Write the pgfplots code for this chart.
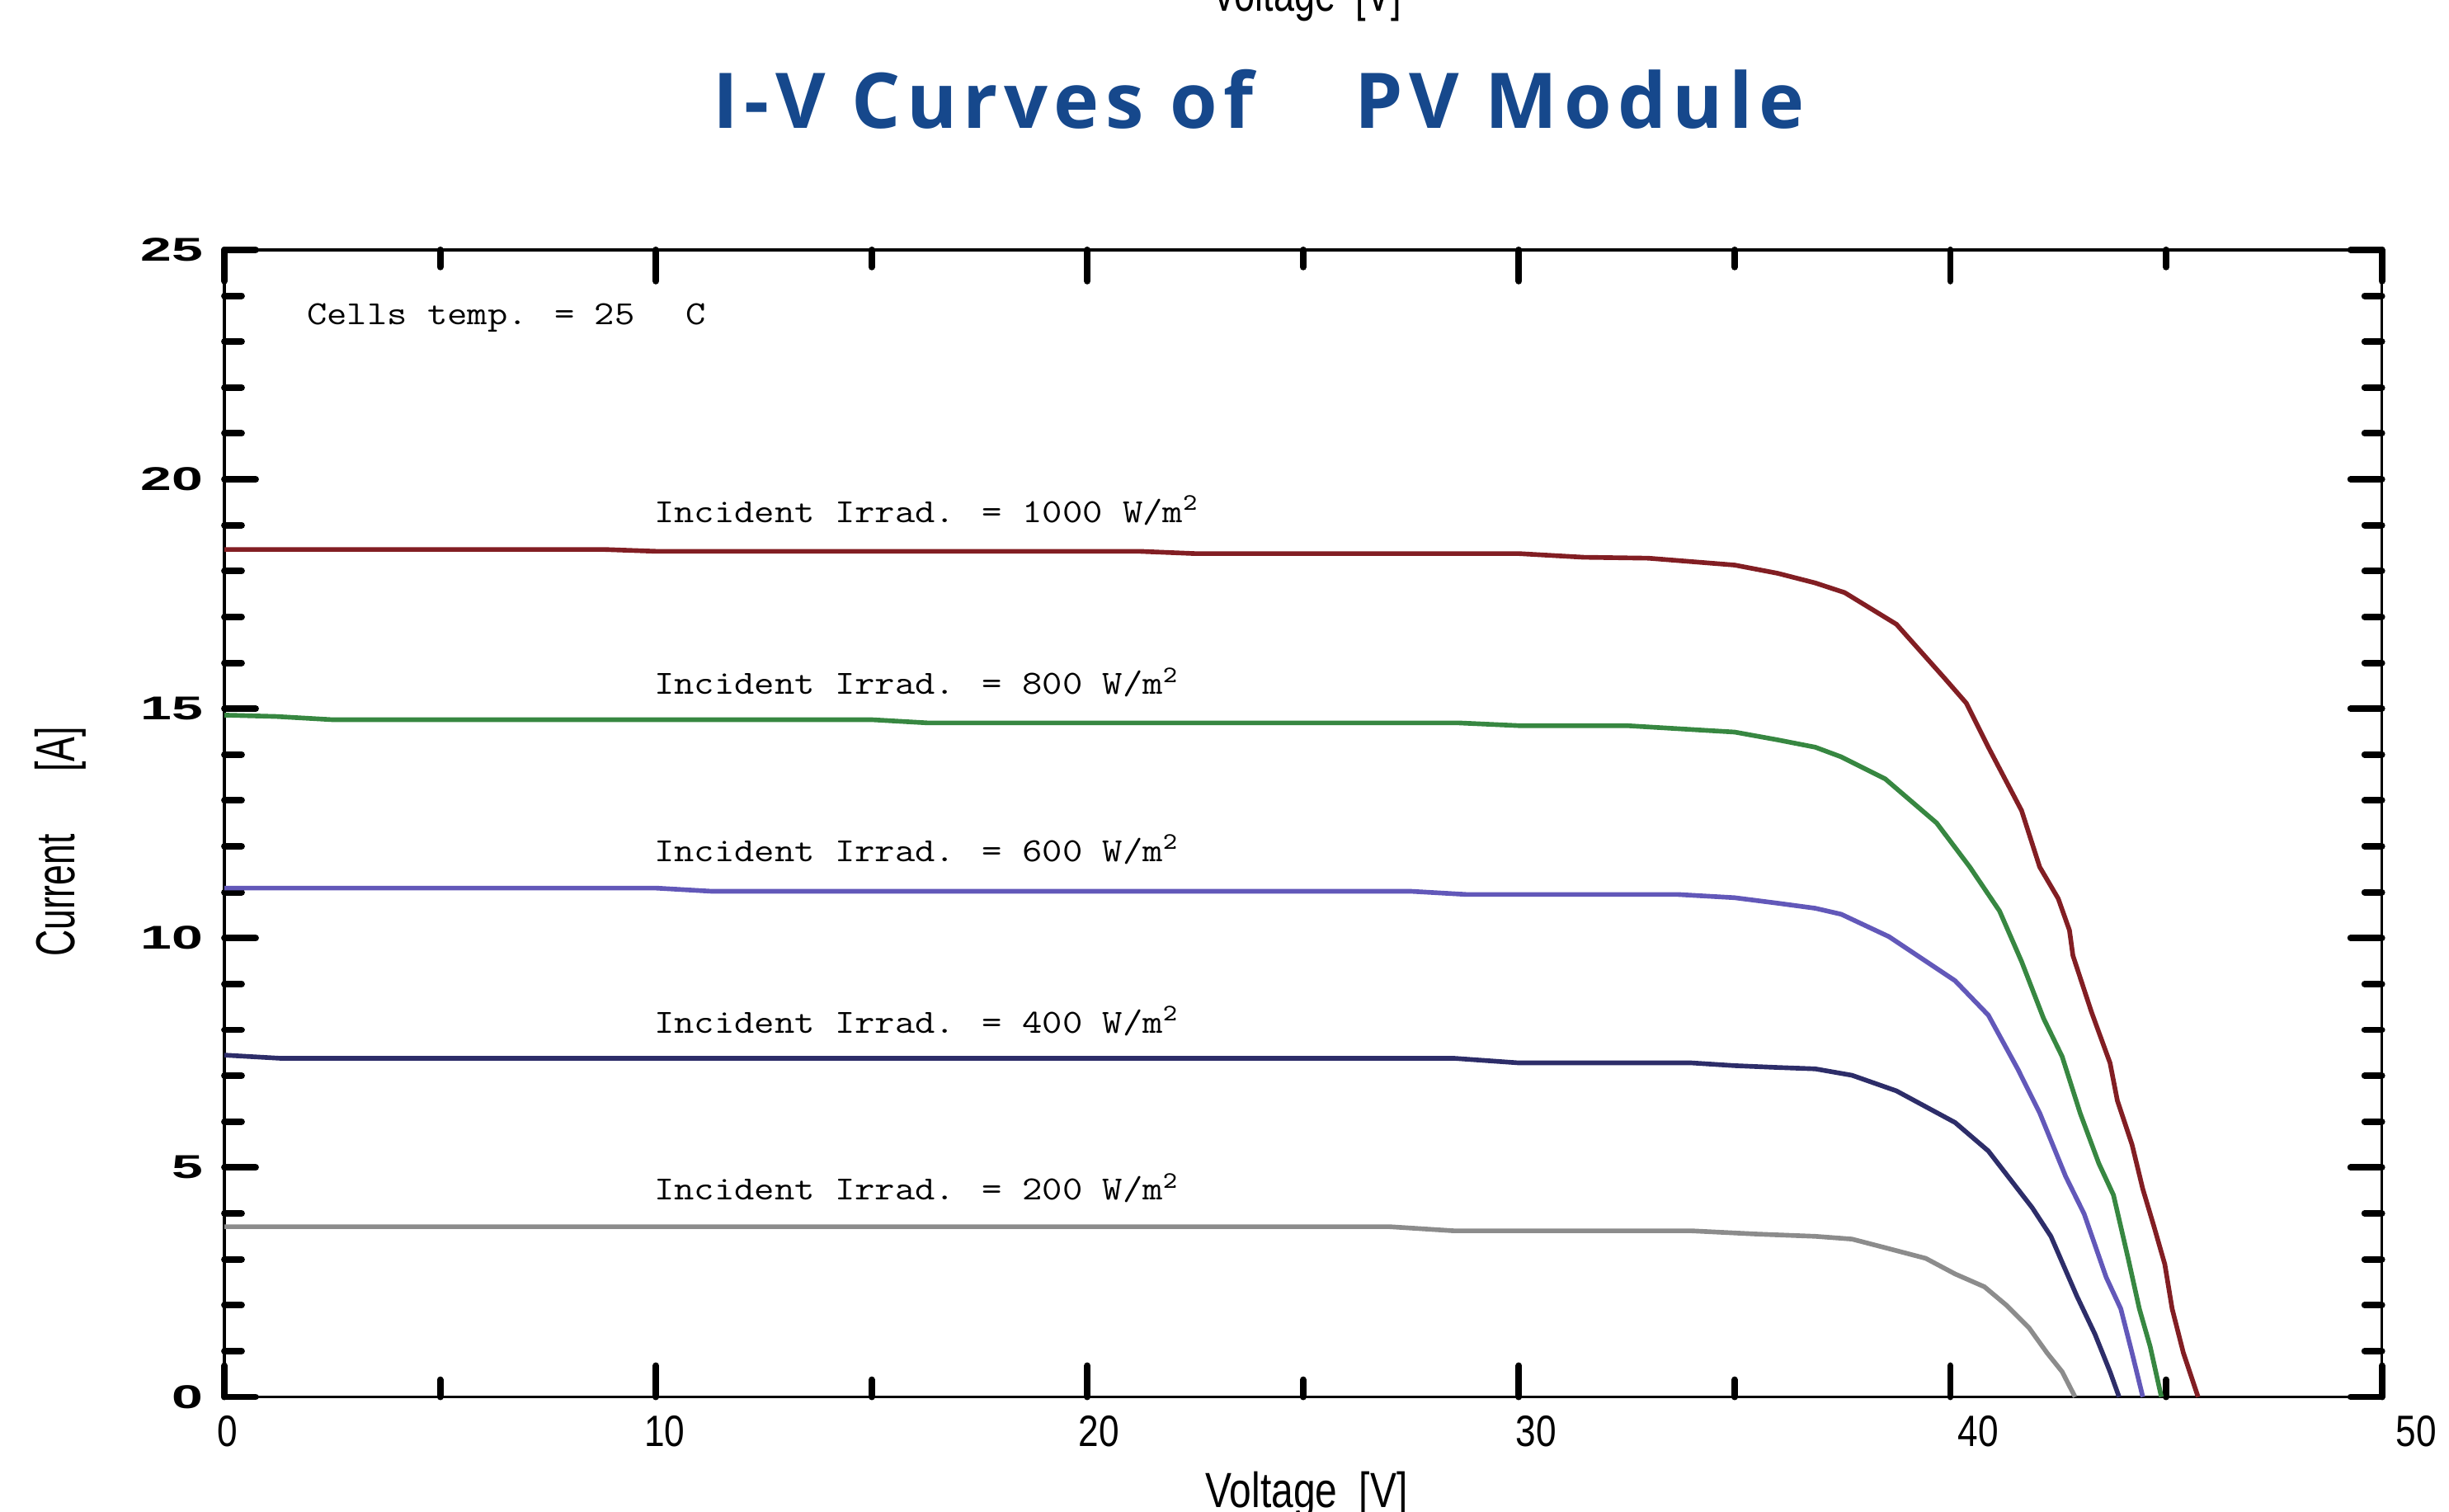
\documentclass[border=0pt]{standalone}
\usepackage{pgfplots}
\pgfplotsset{compat=1.18}
\usepackage{fontspec}
\usepackage{graphicx}
\setmainfont{Liberation Sans}
\newfontfamily\titlefont[LetterSpace=8]{Open Sans}

\definecolor{titleblue}{RGB}{22,72,140}
\definecolor{c1000}{RGB}{130,30,35}
\definecolor{c800}{RGB}{55,135,65}
\definecolor{c600}{RGB}{98,88,185}
\definecolor{c400}{RGB}{45,45,105}
\definecolor{c200}{RGB}{140,140,140}

% annotation text (typewriter, slightly widened)
\newcommand\ann[1]{\scalebox{1.155}[1]{\ttfamily\fontsize{12.3}{14}\selectfont #1}}
% y tick labels: wide bold
\newcommand\yl[1]{\scalebox{1.7}[1]{\fontsize{12}{14}\selectfont\bfseries #1}}
% x tick labels: narrow
\newcommand\xl[1]{\scalebox{0.83}[1]{\fontsize{16}{19}\selectfont #1}}

\pgfplotstableread{
V I
0 18.47
8.8 18.47
10 18.43
21.2 18.43
22.5 18.38
30 18.38
31.5 18.30
33 18.28
35 18.13
36 17.95
36.87 17.74
37.55 17.53
38.75 16.84
39.86 15.67
40.37 15.12
40.88 14.16
41.65 12.78
42.07 11.55
42.5 10.86
42.76 10.17
42.84 9.62
43.27 8.39
43.7 7.28
43.87 6.46
44.21 5.50
44.46 4.53
44.72 3.71
44.97 2.89
45.14 1.92
45.4 0.96
45.74 0
}\irrA

\pgfplotstableread{
V I
0 14.86
1.2 14.83
2.5 14.76
15 14.76
16.3 14.69
28.6 14.69
30 14.63
32.5 14.63
35 14.49
36 14.32
36.87 14.16
37.47 13.95
38.49 13.47
39.68 12.51
40.45 11.55
41.14 10.59
41.65 9.49
42.16 8.25
42.59 7.42
43.01 6.18
43.44 5.09
43.78 4.40
44.12 3.02
44.38 1.92
44.63 1.10
44.89 0
}\irrB

\pgfplotstableread{
V I
0 11.09
10 11.09
11.3 11.02
27.5 11.02
28.8 10.95
33.7 10.95
35 10.88
36 10.76
36.87 10.65
37.47 10.52
38.58 10.03
40.11 9.07
40.88 8.32
41.56 7.15
42.07 6.19
42.67 4.81
43.1 3.99
43.61 2.61
43.95 1.92
44.21 0.96
44.46 0
}\irrC

\pgfplotstableread{
V I
0 7.45
1.3 7.38
28.5 7.38
30 7.28
34 7.28
35 7.22
36 7.18
36.87 7.15
37.72 7.01
38.75 6.67
40.11 5.98
40.88 5.36
41.9 4.12
42.33 3.50
42.93 2.20
43.35 1.37
43.7 0.55
43.91 0
}\irrD

\pgfplotstableread{
V I
0 3.71
27 3.71
28.5 3.62
34 3.62
35.5 3.55
36.87 3.50
37.72 3.44
38.58 3.23
39.43 3.02
40.11 2.68
40.79 2.40
41.31 1.99
41.82 1.51
42.24 0.96
42.59 0.55
42.89 0
}\irrE

\begin{document}
\begin{tikzpicture}
\useasboundingbox (-2.874,-1.466) rectangle (28.49,17.89);
\begin{axis}[
    at={(0,0)}, anchor=south west,
    scale only axis,
    width=27.63cm, height=14.69cm,
    xmin=0, xmax=50, ymin=0, ymax=25,
    xtick={0,10,...,50}, minor xtick={5,15,...,45},
    ytick={0,5,...,25}, minor y tick num=4,
    xticklabels={},
    yticklabels={\yl{0},\yl{5},\yl{10},\yl{15},\yl{20},\yl{25}},
    yticklabel style={anchor=east, inner sep=0pt, xshift=-0.27cm},
    tick align=inside,
    major tick length=0.4cm, minor tick length=0.22cm,
    every tick/.style={black, line width=2.4pt, line cap=round},
    axis line style={line width=1.1pt},
    clip=false,
]
\addplot[c1000, line width=1.7pt] table[x=V, y=I] {\irrA};
\addplot[c800,  line width=1.7pt] table[x=V, y=I] {\irrB};
\addplot[c600,  line width=1.7pt] table[x=V, y=I] {\irrC};
\addplot[c400,  line width=1.7pt] table[x=V, y=I] {\irrD};
\addplot[c200,  line width=1.7pt] table[x=V, y=I] {\irrE};

\node[anchor=base west, inner sep=0] at (axis cs:1.9,23.37) {\ann{Cells temp. = 25\ \ \hspace{0.12cm}C}};
\node[anchor=base west, inner sep=0] at (axis cs:9.95,19.06) {\ann{Incident Irrad. = 1000 W/m\textsuperscript{2}}};
\node[anchor=base west, inner sep=0] at (axis cs:9.95,15.31) {\ann{Incident Irrad. = 800 W/m\textsuperscript{2}}};
\node[anchor=base west, inner sep=0] at (axis cs:9.95,11.67) {\ann{Incident Irrad. = 600 W/m\textsuperscript{2}}};
\node[anchor=base west, inner sep=0] at (axis cs:9.95,7.93) {\ann{Incident Irrad. = 400 W/m\textsuperscript{2}}};
\node[anchor=base west, inner sep=0] at (axis cs:9.95,4.29) {\ann{Incident Irrad. = 200 W/m\textsuperscript{2}}};

% x tick labels (sit slightly right of their ticks, as in the source)
\node[inner sep=0] at (axis cs:0.07,-0.75) {\xl{0}};
\node[inner sep=0] at (axis cs:10.2,-0.75) {\xl{10}};
\node[inner sep=0] at (axis cs:20.27,-0.75) {\xl{20}};
\node[inner sep=0] at (axis cs:30.4,-0.75) {\xl{30}};
\node[inner sep=0] at (axis cs:40.65,-0.75) {\xl{40}};
\node[inner sep=0] at (axis cs:50.8,-0.75) {\xl{50}};
\end{axis}

% title
\node[anchor=base west, inner sep=0, text=titleblue] at (6.25,16.25)
  {\titlefont\bfseries\fontsize{28}{32}\selectfont I-V Curves of\hspace{1.3cm}PV Module};
% axis labels
\node[anchor=north, inner sep=0] at (13.86,-0.95)
  {\scalebox{0.8}[1]{\fontsize{18}{21}\selectfont Voltage\ \ [V]}};
\node[anchor=base, inner sep=0] at (13.86,17.75)
  {\scalebox{0.75}[1]{\fontsize{18}{21}\selectfont Voltage\ \ [V]}};
\node[rotate=90, inner sep=0] at (-2.10,7.11)
  {\scalebox{0.67}[1]{\fontsize{20}{24}\selectfont Current\hspace{34pt}[A]}};
\end{tikzpicture}
\end{document}
